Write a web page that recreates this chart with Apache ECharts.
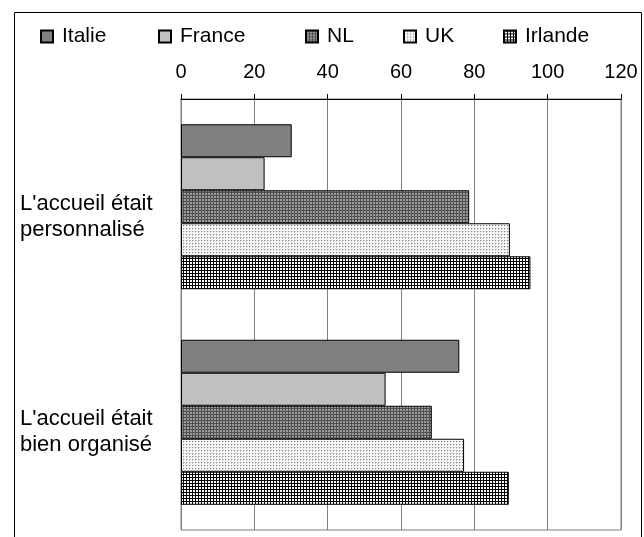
<!DOCTYPE html>
<html>
<head>
<meta charset="utf-8">
<script src="https://cdn.jsdelivr.net/npm/echarts@6/dist/echarts.min.js"></script>
<style>
html,body{margin:0;padding:0;background:#fff;}
#chart{width:644px;height:537px;}
</style>
</head>
<body>
<div id="chart"></div>
<script>
// ---- data ----
const categories = ["L'accueil était\npersonnalisé", "L'accueil était\nbien organisé"];
const seriesNames = ['Italie', 'France', 'NL', 'UK', 'Irlande'];
const italie  = [30.2, 75.9];
const france  = [22.8, 55.8];
const nl      = [78.6, 68.4];
const uk      = [89.7, 77.2];
const irlande = [95.3, 89.4];
const xTicks  = [0, 20, 40, 60, 80, 100, 120];

// ---- patterns ----
function makePattern(size, bg, pixels) {
  const c = document.createElement('canvas');
  c.width = size; c.height = size;
  const g = c.getContext('2d');
  g.fillStyle = bg; g.fillRect(0, 0, size, size);
  pixels.forEach(p => { g.fillStyle = p[2]; g.fillRect(p[0], p[1], 1, 1); });
  return { image: c, repeat: 'repeat' };
}
const fills = [
  '#808080',
  '#c0c0c0',
  makePattern(3, '#9a9a9a', [[0,0,'#505050'],[1,0,'#505050'],[2,0,'#505050'],[0,1,'#505050'],[0,2,'#505050']]),
  makePattern(3, '#ffffff', [[0,0,'#8a8a8a'],[1,0,'#cfcfcf'],[0,1,'#cfcfcf'],[2,2,'#e8e8e8']]),
  makePattern(3, '#ffffff', [[0,0,'#000'],[1,0,'#000'],[2,0,'#000'],[0,1,'#000'],[0,2,'#000']])
];
const values = [italie, france, nl, uk, irlande];

const FONT = '"Liberation Sans", Arial, sans-serif';
const legendLeft = [35, 153, 300, 398, 498];

const chart = echarts.init(document.getElementById('chart'), null, {renderer: 'canvas'});
chart.setOption({
  animation: false,
  backgroundColor: '#ffffff',
  textStyle: { fontFamily: FONT },
  legend: seriesNames.map((n, i) => ({
    data: [n],
    left: legendLeft[i],
    top: 21,
    itemWidth: 12,
    itemHeight: 12,
    icon: 'rect',
    selectedMode: false,
    textStyle: { fontFamily: FONT, fontSize: 21, color: '#000', padding: [0, 0, 0, 4] }
  })),
  grid: {
    left: 181, right: 23, top: 99, bottom: 7,
    show: true, borderColor: '#808080', borderWidth: 1, backgroundColor: 'transparent'
  },
  xAxis: {
    type: 'value', position: 'top', min: 0, max: 120, interval: 20,
    axisLine: { show: true, lineStyle: { color: '#000', width: 1 } },
    axisTick: { show: true, inside: false, length: 5, lineStyle: { color: '#000' } },
    axisLabel: { fontFamily: FONT, fontSize: 20, color: '#000', margin: 17,
      formatter: v => xTicks.indexOf(v) >= 0 ? String(v) : '' },
    splitLine: { show: true, lineStyle: { color: '#808080', width: 1 } }
  },
  yAxis: {
    type: 'category', inverse: true, data: categories,
    axisLine: { show: true, lineStyle: { color: '#808080' } },
    axisTick: { show: false },
    axisLabel: {
      align: 'left', margin: 161, fontFamily: FONT, fontSize: 22, color: '#000',
      formatter: v => '{pad| }\n' + v.split('\n').map(s => '{a|' + s + '}').join('\n'),
      rich: {
        pad: { fontSize: 10, lineHeight: 20 },
        a: { fontFamily: FONT, fontSize: 22, lineHeight: 26, color: '#000' }
      }
    }
  },
  series: seriesNames.map((n, i) => ({
    name: n, type: 'bar', data: values[i],
    barWidth: 33, barGap: '0%',
    itemStyle: { color: fills[i], borderColor: '#000', borderWidth: 1 }
  })),
  graphic: [{
    type: 'rect', left: 12, top: 10, silent: true, z: 100,
    shape: { x: 0, y: 0, width: 627, height: 600 },
    style: { fill: 'none', stroke: '#000', lineWidth: 1 }
  }]
});
</script>
</body>
</html>
